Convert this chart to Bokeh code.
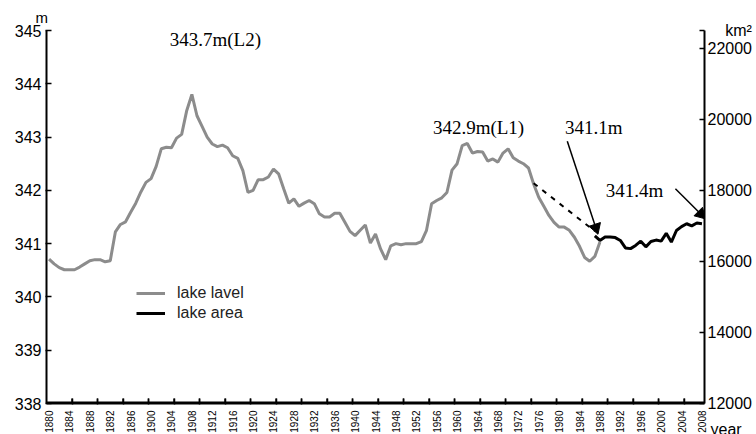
import math
from bokeh.plotting import figure
from bokeh.models import (Range1d, LinearAxis, FixedTicker, Legend, LegendItem,
                          Label, Title, Span)
from bokeh.embed import file_html
from bokeh.resources import INLINE

# ---------------- data ----------------
level_years = list(range(1880, 1989))
level_m = [
    340.71, 340.62, 340.55, 340.51, 340.51, 340.51, 340.56, 340.62, 340.68, 340.70,  # 1880-1889
    340.70, 340.66, 340.68, 341.22, 341.36, 341.41, 341.59, 341.76, 341.97, 342.15,  # 1890-1899
    342.22, 342.45, 342.78, 342.81, 342.80, 342.98, 343.05, 343.50, 343.80, 343.40,  # 1900-1909
    343.20, 343.00, 342.87, 342.82, 342.85, 342.80, 342.65, 342.60, 342.37, 341.96,  # 1910-1919
    342.00, 342.20, 342.20, 342.25, 342.40, 342.31, 342.03, 341.76, 341.84, 341.70,  # 1920-1929
    341.76, 341.81, 341.75, 341.56, 341.50, 341.50, 341.57, 341.57, 341.40, 341.23,  # 1930-1939
    341.15, 341.25, 341.35, 341.01, 341.18, 340.90, 340.70, 340.96, 341.00, 340.98,  # 1940-1949
    341.00, 341.00, 341.00, 341.04, 341.25, 341.75, 341.81, 341.86, 341.96, 342.38,  # 1950-1959
    342.50, 342.84, 342.88, 342.70, 342.73, 342.72, 342.55, 342.59, 342.53, 342.70,  # 1960-1969
    342.78, 342.61, 342.55, 342.50, 342.42, 342.12, 341.87, 341.70, 341.53, 341.40,  # 1970-1979
    341.31, 341.31, 341.25, 341.12, 340.95, 340.74, 340.67, 340.76, 341.03,          # 1980-1988
]
area_years = list(range(1987, 2009))
area_km2 = [16720, 16590, 16685, 16690, 16670, 16590, 16380, 16360, 16450, 16570,
            16410, 16560, 16600, 16570, 16790, 16545, 16870, 16980, 17060, 17000,
            17080, 17060]
dash_years = [1975, 1987]
dash_km2 = [18200, 16850]

x_label_years = list(range(1880, 2009, 4))
x_tick_marks = [1884.5 + 5 * i for i in range(25)]
left_ticks = [338, 339, 340, 341, 342, 343, 344, 345]
right_ticks = [12000, 14000, 16000, 18000, 20000, 22000]
area_unit_tick = 22500          # top of the area axis, carries the unit text

annotations = [
    ("343.7m(L2)", 1912.6, 344.83),
    ("342.9m(L1)", 1964.2, 343.18),
    ("341.1m", 1986.8, 343.18),
    ("341.4m", 1994.8, 342.00),
]
arrow_x0 = [1981.6, 2002.8]
arrow_y0 = [342.92, 342.03]
arrow_x1 = [1987.5, 2008.45]
arrow_y1 = [341.21, 341.49]

# ---------------- figure ----------------
SANS = "Liberation Sans"
SERIF = "Liberation Serif"
FW, FH = 658, 373
X0, X1, Y0, Y1 = 1879.5, 2008.5, 338, 345
NB = "\u00a0"
px_x = FW / (X1 - X0)
px_y = FH / (Y1 - Y0)

p = figure(frame_width=FW, frame_height=FH, output_backend="svg",
           toolbar_location=None, x_axis_location=None, y_axis_location=None,
           x_range=Range1d(X0, X1), y_range=Range1d(Y0, Y1),
           min_border_left=46, min_border_right=52, min_border_top=30,
           min_border_bottom=31)
p.extra_y_ranges = {"area": Range1d(12000, area_unit_tick)}
p.outline_line_color = None
p.xgrid.visible = False
p.ygrid.visible = False
p.background_fill_color = None
p.border_fill_color = None


def style_axis(ax):
    ax.axis_line_width = 2
    ax.axis_line_color = "black"
    ax.major_tick_line_color = "black"
    ax.major_tick_line_width = 1.5
    ax.major_label_text_font = SANS
    ax.major_label_text_color = "black"


# x axis
xa = LinearAxis(ticker=FixedTicker(ticks=x_label_years, minor_ticks=x_tick_marks))
style_axis(xa)
xa.major_tick_line_color = None
xa.major_tick_in = 0
xa.major_tick_out = 1
xa.minor_tick_in = 5
xa.minor_tick_out = 1
xa.minor_tick_line_color = "black"
xa.minor_tick_line_width = 1.5
xa.major_label_orientation = math.pi / 2
xa.major_label_text_font_size = "10px"
xa.major_label_standoff = 6
p.add_layout(xa, "below")

# "year" next to the end of the time axis
p.add_layout(Title(text="year", align="left", offset=664, standoff=-30,
                   vertical_align="top", text_font=SANS, text_font_size="16px",
                   text_font_style="normal", text_color="black"), "below")

# left axis
ya = LinearAxis(ticker=FixedTicker(ticks=left_ticks))
style_axis(ya)
ya.major_tick_in = 5
ya.major_tick_out = 1
ya.minor_tick_line_color = None
ya.major_label_text_font_size = "16px"
ya.major_label_standoff = 4
p.add_layout(ya, "left")

# right axis (area); its top tick carries the unit
ra = LinearAxis(y_range_name="area",
                ticker=FixedTicker(ticks=right_ticks + [area_unit_tick]))
style_axis(ra)
ra.major_tick_in = 5
ra.major_tick_out = 0
ra.minor_tick_line_color = None
ra.major_label_text_font_size = "16px"
ra.major_label_standoff = 3
ra.major_label_overrides = {area_unit_tick: NB * 4 + "km²"}
p.add_layout(ra, "right")

# unit of the left axis
p.add_layout(Title(text="m", align="left", offset=-11, text_font=SANS,
                   text_font_size="15px", text_font_style="normal",
                   text_color="black"), "above")

# base line of the time axis and its 5-year inward ticks, drawn inside the frame
p.add_layout(Span(location=Y0 + 1.0 / px_y, dimension="width",
                  line_color="black", line_width=2))
p.scatter(x_tick_marks, [Y0] * len(x_tick_marks), marker="dash", size=10,
          angle=math.pi / 2, line_color="black", line_width=1.5)

# ---------------- series ----------------
r_level = p.line(level_years, level_m, line_color="#8c8c8c", line_width=3)
r_area = p.line(area_years, area_km2, line_color="black", line_width=3,
                y_range_name="area")
p.line(dash_years, dash_km2, line_color="black", line_width=2,
       line_dash="5 6", y_range_name="area")

legend = Legend(items=[LegendItem(label="lake lavel", renderers=[r_level]),
                       LegendItem(label="lake area", renderers=[r_area])],
                location=(90, 80), border_line_color=None,
                background_fill_alpha=0, padding=0, margin=0, spacing=0,
                glyph_width=29, glyph_height=20, label_height=20,
                label_standoff=12, label_text_font=SANS,
                label_text_font_size="16px", label_text_color="#222222")
p.add_layout(legend)

# ---------------- annotations ----------------
for txt, x, y in annotations:
    p.add_layout(Label(x=x, y=y, text=txt, text_font=SERIF,
                       text_font_size="19px", text_color="black",
                       text_align="center", text_baseline="middle"))

head_x, head_y, head_ang = [], [], []
for x0, y0, x1, y1 in zip(arrow_x0, arrow_y0, arrow_x1, arrow_y1):
    dx, dy = (x1 - x0) * px_x, (y1 - y0) * px_y
    L = math.hypot(dx, dy)
    ux, uy = dx / L, dy / L
    back = 5.0
    head_x.append(x1 - ux * back / px_x)
    head_y.append(y1 - uy * back / px_y)
    head_ang.append(math.atan2(dy, dx) - math.pi / 2)
p.segment(arrow_x0, arrow_y0, arrow_x1, arrow_y1, line_color="black",
          line_width=1.5)
p.scatter(head_x, head_y, marker="triangle", size=12, angle=head_ang,
          fill_color="black", line_color="black")

open("out.html", "w").write(file_html(p, INLINE))
